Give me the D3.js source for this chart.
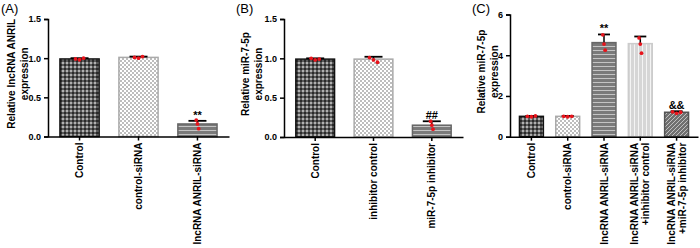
<!DOCTYPE html>
<html>
<head>
<meta charset="utf-8">
<script src="https://cdn.jsdelivr.net/npm/d3@7"></script>
<style>
  body { margin: 0; background: #fff; }
  text { font-family: "Liberation Sans", Arial, sans-serif; }
</style>
</head>
<body>
<div id="fig"></div>
<script>
// données
const categoriesA = ["Control", "control-siRNA", "lncRNA ANRIL-siRNA"];
const meansA = [0.99, 1.01, 0.16];
const errA = [0.01, 0.01, 0.04];
const pointsA = [[0.99, 0.98, 1.0], [1.01, 1.0, 1.02], [0.21, 0.16, 0.1]];
const marksA = ["", "", "**"];

const categoriesB = ["Control", "inhibitor control", "miR-7-5p inhibitor"];
const meansB = [0.99, 0.99, 0.15];
const errB = [0.01, 0.03, 0.05];
const pointsB = [[1.0, 0.98, 0.99], [1.01, 0.98, 0.95], [0.2, 0.15, 0.1]];
const marksB = ["", "", "##"];

const categoriesC = ["Control", "control-siRNA", "lncRNA ANRIL-siRNA",
  "lncRNA ANRIL-siRNA\n+inhibitor control", "lncRNA ANRIL-siRNA\n+miR-7-5p inhibitor"];
const meansC = [1.0, 1.0, 4.62, 4.57, 1.2];
const errC = [0.02, 0.02, 0.4, 0.35, 0.05];
const pointsC = [[1.0, 0.98, 1.02], [1.0, 0.98, 1.0], [5.0, 4.55, 4.25], [4.85, 4.55, 4.1], [1.22, 1.15, 1.2]];
const marksC = ["", "", "**", "", "&&"];

const ticksAB = [0, 0.5, 1.0, 1.5];
const ticksC = [0, 2, 4, 6];

const svg = d3.select("#fig").append("svg")
    .attr("width", 700)
    .attr("height", 248);

// motifs de remplissage
const defs = svg.append("defs");

const p1 = defs.append("pattern").attr("id", "darkCheck")
    .attr("width", 4).attr("height", 4).attr("patternUnits", "userSpaceOnUse");
p1.append("rect").attr("width", 4).attr("height", 4).attr("fill", "#5a5a5a");
p1.append("rect").attr("width", 2).attr("height", 2).attr("fill", "#2a2a2a");
p1.append("rect").attr("x", 2).attr("y", 2).attr("width", 2).attr("height", 2).attr("fill", "#b0b0b0");

const p2 = defs.append("pattern").attr("id", "lightCheck")
    .attr("width", 4).attr("height", 4).attr("patternUnits", "userSpaceOnUse");
p2.append("rect").attr("width", 4).attr("height", 4).attr("fill", "#ffffff");
p2.append("rect").attr("width", 2).attr("height", 2).attr("fill", "#bdbdbd");
p2.append("rect").attr("x", 2).attr("y", 2).attr("width", 2).attr("height", 2).attr("fill", "#bdbdbd");

const p3 = defs.append("pattern").attr("id", "hLines")
    .attr("width", 4).attr("height", 4).attr("patternUnits", "userSpaceOnUse");
p3.append("rect").attr("width", 4).attr("height", 4).attr("fill", "#7a7a7a");
p3.append("rect").attr("y", 2).attr("width", 4).attr("height", 1).attr("fill", "#c4c4c4");

const p4 = defs.append("pattern").attr("id", "vLines")
    .attr("width", 4).attr("height", 4).attr("patternUnits", "userSpaceOnUse");
p4.append("rect").attr("width", 4).attr("height", 4).attr("fill", "#d6d6d6");
p4.append("rect").attr("x", 2).attr("width", 1).attr("height", 4).attr("fill", "#f4f4f4");

const p5 = defs.append("pattern").attr("id", "diag")
    .attr("width", 4).attr("height", 4).attr("patternUnits", "userSpaceOnUse");
p5.append("rect").attr("width", 4).attr("height", 4).attr("fill", "#707070");
p5.append("path").attr("d", "M-1,1 L1,-1 M0,4 L4,0 M3,5 L5,3")
    .attr("stroke", "#c0c0c0").attr("stroke-width", 1);

const stylesAB = [
  { fill: "url(#darkCheck)", stroke: "#111" },
  { fill: "url(#lightCheck)", stroke: "#aaa" },
  { fill: "url(#hLines)", stroke: "#666" }
];
const stylesC = [
  { fill: "url(#darkCheck)", stroke: "#111" },
  { fill: "url(#lightCheck)", stroke: "#aaa" },
  { fill: "url(#hLines)", stroke: "#666" },
  { fill: "url(#vLines)", stroke: "#ccc" },
  { fill: "url(#diag)", stroke: "#555" }
];

function panneau(cfg) {
  const g = svg.append("g");

  const x = d3.scaleBand()
      .domain(cfg.categories)
      .range([cfg.x0, cfg.x1])
      .paddingInner(cfg.padIn)
      .paddingOuter(cfg.padOut);

  const y = d3.scaleLinear()
      .domain(cfg.domain)
      .range([cfg.y0, cfg.y1]);

  // barres
  g.selectAll("rect.bar")
    .data(cfg.categories)
    .enter()
    .append("rect")
    .attr("class", "bar")
    .attr("x", d => x(d) + 0.75)
    .attr("width", x.bandwidth() - 1.5)
    .attr("y", (d, i) => y(cfg.means[i]))
    .attr("height", (d, i) => y(0) - y(cfg.means[i]))
    .attr("fill", (d, i) => cfg.styles[i].fill)
    .attr("stroke", (d, i) => cfg.styles[i].stroke)
    .attr("stroke-width", 1.5);

  // barres d'erreur (vers le haut seulement)
  cfg.categories.forEach((c, i) => {
    const cx = x(c) + x.bandwidth() / 2;
    const top = y(cfg.means[i] + cfg.err[i]);
    g.append("line")
      .attr("x1", cx).attr("x2", cx)
      .attr("y1", y(cfg.means[i])).attr("y2", top)
      .attr("stroke", "#000").attr("stroke-width", 1.5);
    g.append("line")
      .attr("x1", cx - cfg.cap).attr("x2", cx + cfg.cap)
      .attr("y1", top).attr("y2", top)
      .attr("stroke", "#000").attr("stroke-width", 1.8);

    // points individuels
    const offs = [-4, 0, 4];
    g.selectAll(null)
      .data(cfg.points[i])
      .enter()
      .append("circle")
      .attr("cx", (d, k) => cx + offs[k] * (cfg.means[i] > 0.5 && cfg.means[i] < 2 ? 1 : 0.3))
      .attr("cy", d => y(d))
      .attr("r", 1.9)
      .attr("fill", "#e8141c");

    if (cfg.marks[i]) {
      g.append("text")
        .attr("x", cx)
        .attr("y", top - 2)
        .attr("text-anchor", "middle")
        .attr("font-size", 11)
        .attr("font-weight", "bold")
        .text(cfg.marks[i]);
    }
  });

  // axe Y
  const axeY = d3.axisLeft(y).tickValues(cfg.ticks).tickSize(4)
      .tickFormat(cfg.fmt);
  const gy = g.append("g")
      .attr("transform", "translate(" + cfg.x0 + ",0)")
      .call(axeY);
  gy.select(".domain").attr("stroke-width", 1.5);
  gy.selectAll(".tick line").attr("stroke-width", 1.5);
  gy.selectAll("text")
    .attr("font-size", 9)
    .attr("font-weight", "bold")
    .attr("font-family", "Liberation Sans, Arial, sans-serif")
    .attr("fill", "#000");

  // axe X
  const axeX = d3.axisBottom(x).tickSize(4).tickSizeOuter(0).tickFormat("");
  const gx = g.append("g")
      .attr("transform", "translate(0," + cfg.y0 + ")")
      .call(axeX);
  gx.select(".domain").attr("stroke-width", 1.5);
  gx.selectAll(".tick line").attr("stroke-width", 1.5);

  // étiquettes X tournées
  cfg.categories.forEach(c => {
    const lignes = c.split("\n");
    const cx = x(c) + x.bandwidth() / 2;
    const t = g.append("text")
      .attr("transform", "translate(" + cx + "," + (cfg.y0 + 6) + ") rotate(-90)")
      .attr("text-anchor", "end")
      .attr("font-size", 10)
      .attr("font-weight", "bold");
    lignes.forEach((l, k) => {
      t.append("tspan")
        .attr("x", 0)
        .attr("dy", k === 0 ? (lignes.length === 1 ? 3.5 : -2) : 11)
        .text(l);
    });
  });

  // titre Y
  const ym = (cfg.y0 + cfg.y1) / 2 - 4;
  const titre = g.append("text")
    .attr("transform", "translate(" + cfg.titleX + "," + ym + ") rotate(-90)")
    .attr("text-anchor", "middle")
    .attr("font-size", 10)
    .attr("font-weight", "bold");
  titre.append("tspan").attr("x", 0).attr("dy", 0).text(cfg.title[0]);
  titre.append("tspan").attr("x", 0).attr("dy", 12.5).text(cfg.title[1]);

  // lettre du panneau
  g.append("text")
    .attr("x", cfg.labelX)
    .attr("y", 13)
    .attr("font-size", 13)
    .text(cfg.label);
}

panneau({
  categories: categoriesA, means: meansA, err: errA, points: pointsA, marks: marksA,
  styles: stylesAB, x0: 48, x1: 229, y0: 136.5, y1: 19, domain: [0, 1.5],
  padIn: 0.31, padOut: 0.19, ticks: ticksAB, fmt: d3.format(".1f"), cap: 9,
  title: ["Relative lncRNA ANRIL", "expression"], titleX: 15, label: "(A)", labelX: 1
});

panneau({
  categories: categoriesB, means: meansB, err: errB, points: pointsB, marks: marksB,
  styles: stylesAB, x0: 284, x1: 463, y0: 137, y1: 19, domain: [0, 1.5],
  padIn: 0.31, padOut: 0.19, ticks: ticksAB, fmt: d3.format(".1f"), cap: 9,
  title: ["Relative miR-7-5p", "expression"], titleX: 249, label: "(B)", labelX: 236
});

panneau({
  categories: categoriesC, means: meansC, err: errC, points: pointsC, marks: marksC,
  styles: stylesC, x0: 510, x1: 698, y0: 136.7, y1: 14.5, domain: [0, 6],
  padIn: 0.3, padOut: 0.24, ticks: ticksC, fmt: d3.format("d"), cap: 6,
  title: ["Relative miR-7-5p", "expression"], titleX: 485, label: "(C)", labelX: 472
});
</script>
</body>
</html>
